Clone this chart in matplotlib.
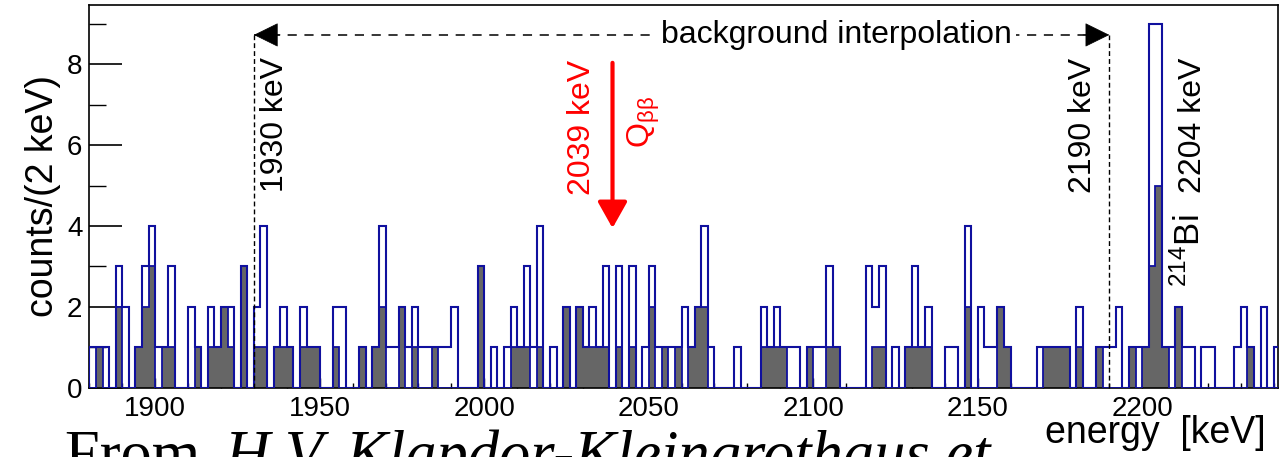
import numpy as np
import matplotlib
matplotlib.use("Agg")
import matplotlib.pyplot as plt

plt.rcParams["font.family"] = ["Liberation Sans", "DejaVu Sans"]
plt.rcParams["mathtext.fontset"] = "custom"
plt.rcParams["mathtext.rm"] = "Liberation Sans"
plt.rcParams["mathtext.it"] = "Liberation Sans"

# 2 keV bins from 1880 keV
bin_start = 1880
bin_width = 2

# all detectors (open histogram)
total = [
    1, 1, 1, 0, 3, 2, 0, 1, 3, 4,   # 1880
    1, 1, 3, 0, 0, 2, 1, 0, 2, 1,   # 1900
    2, 2, 0, 3, 0, 2, 4, 0, 1, 2,   # 1920
    1, 0, 2, 1, 1, 0, 0, 2, 2, 0,   # 1940
    0, 1, 0, 1, 4, 1, 1, 2, 1, 2,   # 1960
    1, 1, 1, 1, 1, 2, 0, 0, 0, 3,   # 1980
    0, 1, 0, 1, 2, 1, 3, 1, 4, 0,   # 2000
    1, 0, 2, 0, 2, 1, 2, 1, 3, 0,   # 2020
    3, 0, 3, 0, 1, 3, 1, 1, 1, 1,   # 2040
    2, 1, 2, 4, 1, 0, 0, 0, 1, 0,   # 2060
    0, 0, 2, 1, 2, 1, 1, 1, 0, 1,   # 2080
    1, 1, 3, 1, 0, 0, 0, 0, 3, 2,   # 2100
    3, 0, 1, 0, 1, 3, 1, 2, 0, 0,   # 2120
    1, 1, 0, 4, 0, 2, 1, 1, 2, 1,   # 2140
    0, 0, 0, 0, 1, 1, 1, 1, 1, 0,   # 2160
    2, 0, 0, 1, 1, 1, 2, 0, 1, 1,   # 2180
    1, 9, 9, 1, 1, 2, 1, 1, 0, 1,   # 2200
    1, 0, 0, 0, 1, 2, 1, 0, 2, 0,   # 2220
    1,                              # 2240
]

# subset (filled histogram)
subset = [
    0, 1, 0, 0, 2, 0, 0, 1, 2, 3,
    0, 1, 1, 0, 0, 0, 1, 0, 1, 1,
    2, 1, 0, 3, 0, 1, 1, 0, 1, 1,
    1, 0, 1, 1, 1, 0, 0, 1, 0, 0,
    0, 1, 0, 1, 2, 0, 0, 2, 0, 1,
    0, 0, 1, 0, 0, 0, 0, 0, 0, 3,
    0, 0, 0, 0, 1, 1, 1, 0, 1, 0,
    0, 0, 2, 0, 2, 1, 1, 1, 1, 0,
    1, 0, 1, 0, 0, 2, 0, 1, 0, 1,
    0, 1, 2, 2, 0, 0, 0, 0, 0, 0,
    0, 0, 1, 1, 1, 1, 0, 0, 0, 1,
    0, 0, 1, 1, 0, 0, 0, 0, 0, 1,
    1, 0, 0, 0, 1, 1, 1, 1, 0, 0,
    0, 0, 0, 2, 0, 0, 0, 0, 2, 1,
    0, 0, 0, 0, 0, 1, 1, 1, 1, 0,
    1, 0, 0, 1, 0, 0, 0, 0, 1, 0,
    1, 3, 5, 1, 0, 2, 0, 0, 0, 0,
    0, 0, 0, 0, 0, 0, 1, 0, 0, 0,
    0,
]

window_lo, window_hi = 1930, 2190
q_bb = 2039
line_bi = 2204

edges = bin_start + bin_width * np.arange(len(total) + 1)
blue = "#10109e"
grey = "#666666"

fig = plt.figure(figsize=(12.81, 4.57), dpi=100)
ax = fig.add_axes([0.0698, 0.1516, 0.9279, 0.8374])

ax.stairs(subset, edges, fill=True, color=grey, zorder=2)
ax.stairs(subset, edges, color=blue, lw=1.3, zorder=3)
ax.stairs(total, edges, color=blue, lw=1.5, zorder=4)

ax.set_xlim(1880, 2241.3)
ax.set_ylim(0, 9.47)

ax.set_yticks([0, 2, 4, 6, 8])
ax.set_yticks([1, 3, 5, 7, 9], minor=True)
ax.set_xticks([1900, 1950, 2000, 2050, 2100, 2150, 2200])
ax.set_xticks(np.arange(1880, 2241, 10), minor=True)
ax.tick_params(axis="y", which="major", direction="in", length=24, width=1.2,
               labelsize=20, pad=5)
ax.tick_params(axis="y", which="minor", direction="in", length=12, width=1.0)
ax.tick_params(axis="x", which="major", direction="in", length=7, width=1.0,
               labelsize=20, pad=6)
ax.tick_params(axis="x", which="minor", direction="in", length=3.6, width=1.0)
for s in ax.spines.values():
    s.set_linewidth(1.2)

ax.set_ylabel("counts/(2 keV)", fontsize=27, labelpad=4)
fig.text(0.988, 0.052, "energy  [keV]", fontsize=27, ha="right", va="center")

# background interpolation window
arrow_y = 8.73
for xv in (window_lo, window_hi):
    ax.plot([xv, xv], [0, arrow_y], color="k", lw=1.0,
            linestyle=(0, (3.5, 2.2)), zorder=5)
ax.plot([window_lo, window_hi], [arrow_y, arrow_y], color="k", lw=1.1,
        linestyle=(0, (6, 5)), zorder=5)
for tip, tail in ((window_lo, window_lo + 8), (window_hi, window_hi - 8)):
    ax.annotate("", xy=(tip, arrow_y), xytext=(tail, arrow_y),
                arrowprops=dict(arrowstyle="-|>,head_length=0.65,head_width=0.32",
                                mutation_scale=25, color="k", lw=0.5,
                                shrinkA=0, shrinkB=0), zorder=6)
ax.text(2107, arrow_y, "background interpolation", fontsize=23,
        ha="center", va="center", zorder=7,
        bbox=dict(facecolor="white", edgecolor="none", pad=3))

ax.text(1936.4, 4.84, "1930 keV", rotation=90, fontsize=23,
        ha="center", va="bottom", zorder=7)
ax.text(2182.0, 4.82, "2190 keV", rotation=90, fontsize=23,
        ha="center", va="bottom", zorder=7)
ax.text(2215.4, 4.82, "%d keV" % line_bi, rotation=90, fontsize=23,
        ha="center", va="bottom", zorder=7)
ax.text(2214.3, 2.49, r"$^{214}$Bi", rotation=90, fontsize=25,
        ha="center", va="bottom", zorder=7)

# Q value marker
ax.annotate("", xy=(q_bb, 3.95), xytext=(q_bb, 8.04),
            arrowprops=dict(arrowstyle="-|>,head_length=0.8,head_width=0.45",
                            mutation_scale=20, color="red", lw=3,
                            shrinkA=0, shrinkB=0), zorder=7)
ax.text(2029.7, 4.77, "%d keV" % q_bb, rotation=90, fontsize=23, color="red",
        ha="center", va="bottom", zorder=7)
ax.text(2048.5, 5.93, r"Q$_{\beta\beta}$", rotation=90, fontsize=23, color="red",
        ha="center", va="bottom", zorder=7)

# caption cut by the bottom edge
cap_y = -17 / 457
fig.text(65 / 1281, cap_y, "From ", fontsize=45,
         family=["Liberation Serif", "DejaVu Serif"], ha="left", va="baseline")
fig.text(225 / 1281, cap_y, "H.V. Klapdor-Kleingrothaus et", fontsize=45,
         family=["Liberation Serif", "DejaVu Serif"], style="italic",
         ha="left", va="baseline")

fig.savefig("out.png", dpi=100)
